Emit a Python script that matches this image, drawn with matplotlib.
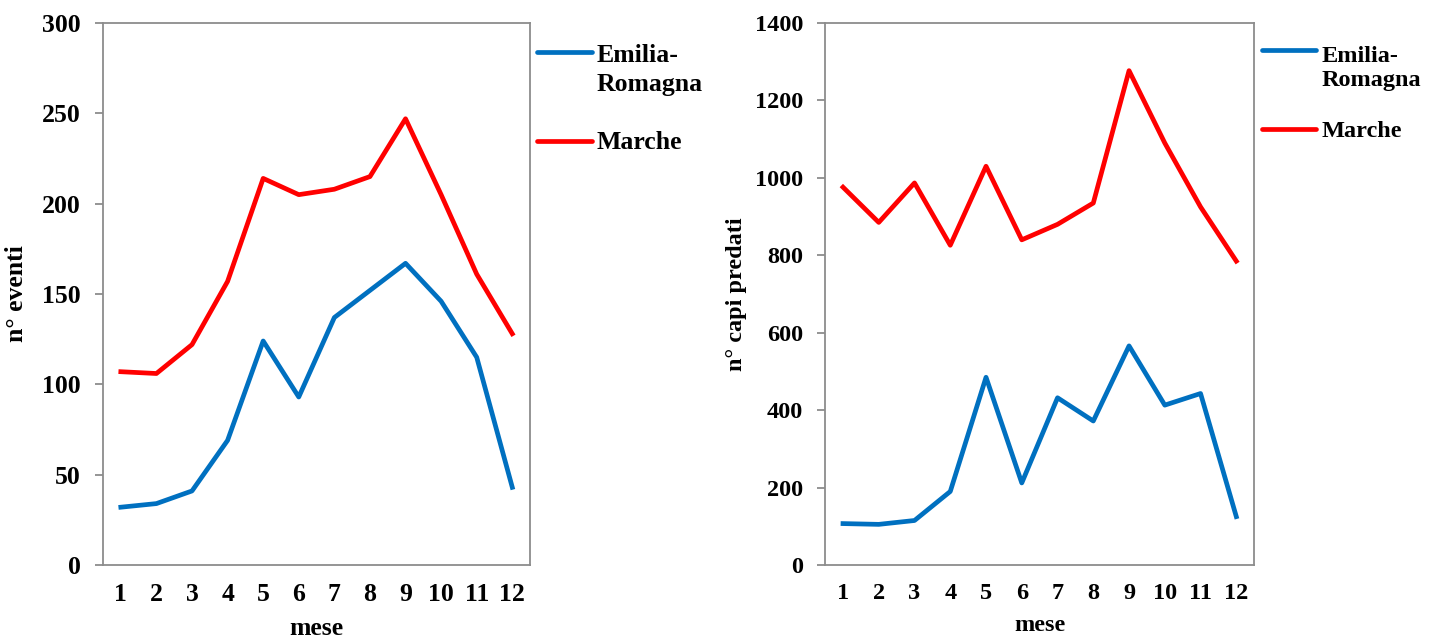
import matplotlib.pyplot as plt
from matplotlib.lines import Line2D

mesi = list(range(1, 13))

# n° eventi
eventi_emilia = [32, 34, 41, 69, 124, 93, 137, 152, 167, 146, 115, 43]
eventi_marche = [107, 106, 122, 157, 214, 205, 208, 215, 247, 205, 161, 128]

# n° capi predati
capi_emilia = [107, 105, 115, 190, 485, 212, 432, 372, 566, 413, 443, 125]
capi_marche = [976, 885, 987, 826, 1030, 840, 880, 935, 1277, 1090, 925, 785]

regioni = ['Emilia-\nRomagna', 'Marche']

plt.rcParams['font.family'] = ['Liberation Serif', 'DejaVu Serif']
plt.rcParams['font.weight'] = 'bold'

BLUE = '#0070C0'
RED = '#FF0000'
GRAY = '#8C8C8C'

fig = plt.figure(figsize=(14.35, 6.38), dpi=100)
ax1 = fig.add_axes([0.0718, 0.1144, 0.2976, 0.8495])
ax2 = fig.add_axes([0.575, 0.1144, 0.299, 0.8495])


def style(ax, ymax, step, ylabel, fs, ypad):
    ax.set_xlim(0.5, 12.5)
    ax.set_ylim(0, ymax)
    ax.set_yticks(range(0, ymax + 1, step))
    ax.set_xticks(mesi)
    for s in ax.spines.values():
        s.set_color(GRAY)
        s.set_linewidth(1.3)
    ax.tick_params(axis='x', length=0, pad=13, labelsize=fs)
    ax.tick_params(axis='y', length=6, width=1.3, color=GRAY, pad=10, labelsize=fs)
    ax.set_xlabel('mese', fontsize=fs, fontweight='bold', labelpad=8)
    ax.set_ylabel(ylabel, fontsize=fs, fontweight='bold', labelpad=ypad)


def legenda(ax, lines, labels, x0, x1, xt, ys, baselines, fs):
    # legend drawn by hand so the handle sits on the first text line
    for ln, lab, y, bl in zip(lines, labels, ys, baselines):
        ax.add_line(Line2D([x0, x1], [y, y], transform=ax.transAxes,
                           color=ln.get_color(), lw=ln.get_linewidth(),
                           solid_capstyle='round', clip_on=False))
        for row, b in zip(lab.split('\n'), bl):
            ax.text(xt, b, row, transform=ax.transAxes, fontsize=fs,
                    fontweight='bold', va='baseline', ha='left')


l1 = ax1.plot(mesi, eventi_emilia, color=BLUE, lw=3.4)[0]
l2 = ax1.plot(mesi, eventi_marche, color=RED, lw=3.4)[0]
style(ax1, 300, 50, 'n° eventi', 18.5, 10)
legenda(ax1, [l1, l2], regioni, 1.0164, 1.1452, 1.1546,
        [0.9465, 0.7823], [[0.9280, 0.8745], [0.7675]], 18.5)

r1 = ax2.plot(mesi, capi_emilia, color=BLUE, lw=3.4)[0]
r2 = ax2.plot(mesi, capi_marche, color=RED, lw=3.4)[0]
style(ax2, 1400, 200, 'n° capi predati', 17.5, 5.5)
legenda(ax2, [r1, r2], regioni, 1.0186, 1.1445, 1.1562,
        [0.9502, 0.8044], [[0.9280, 0.8838], [0.7897]], 17.5)

fig.savefig('out.png', dpi=100)
